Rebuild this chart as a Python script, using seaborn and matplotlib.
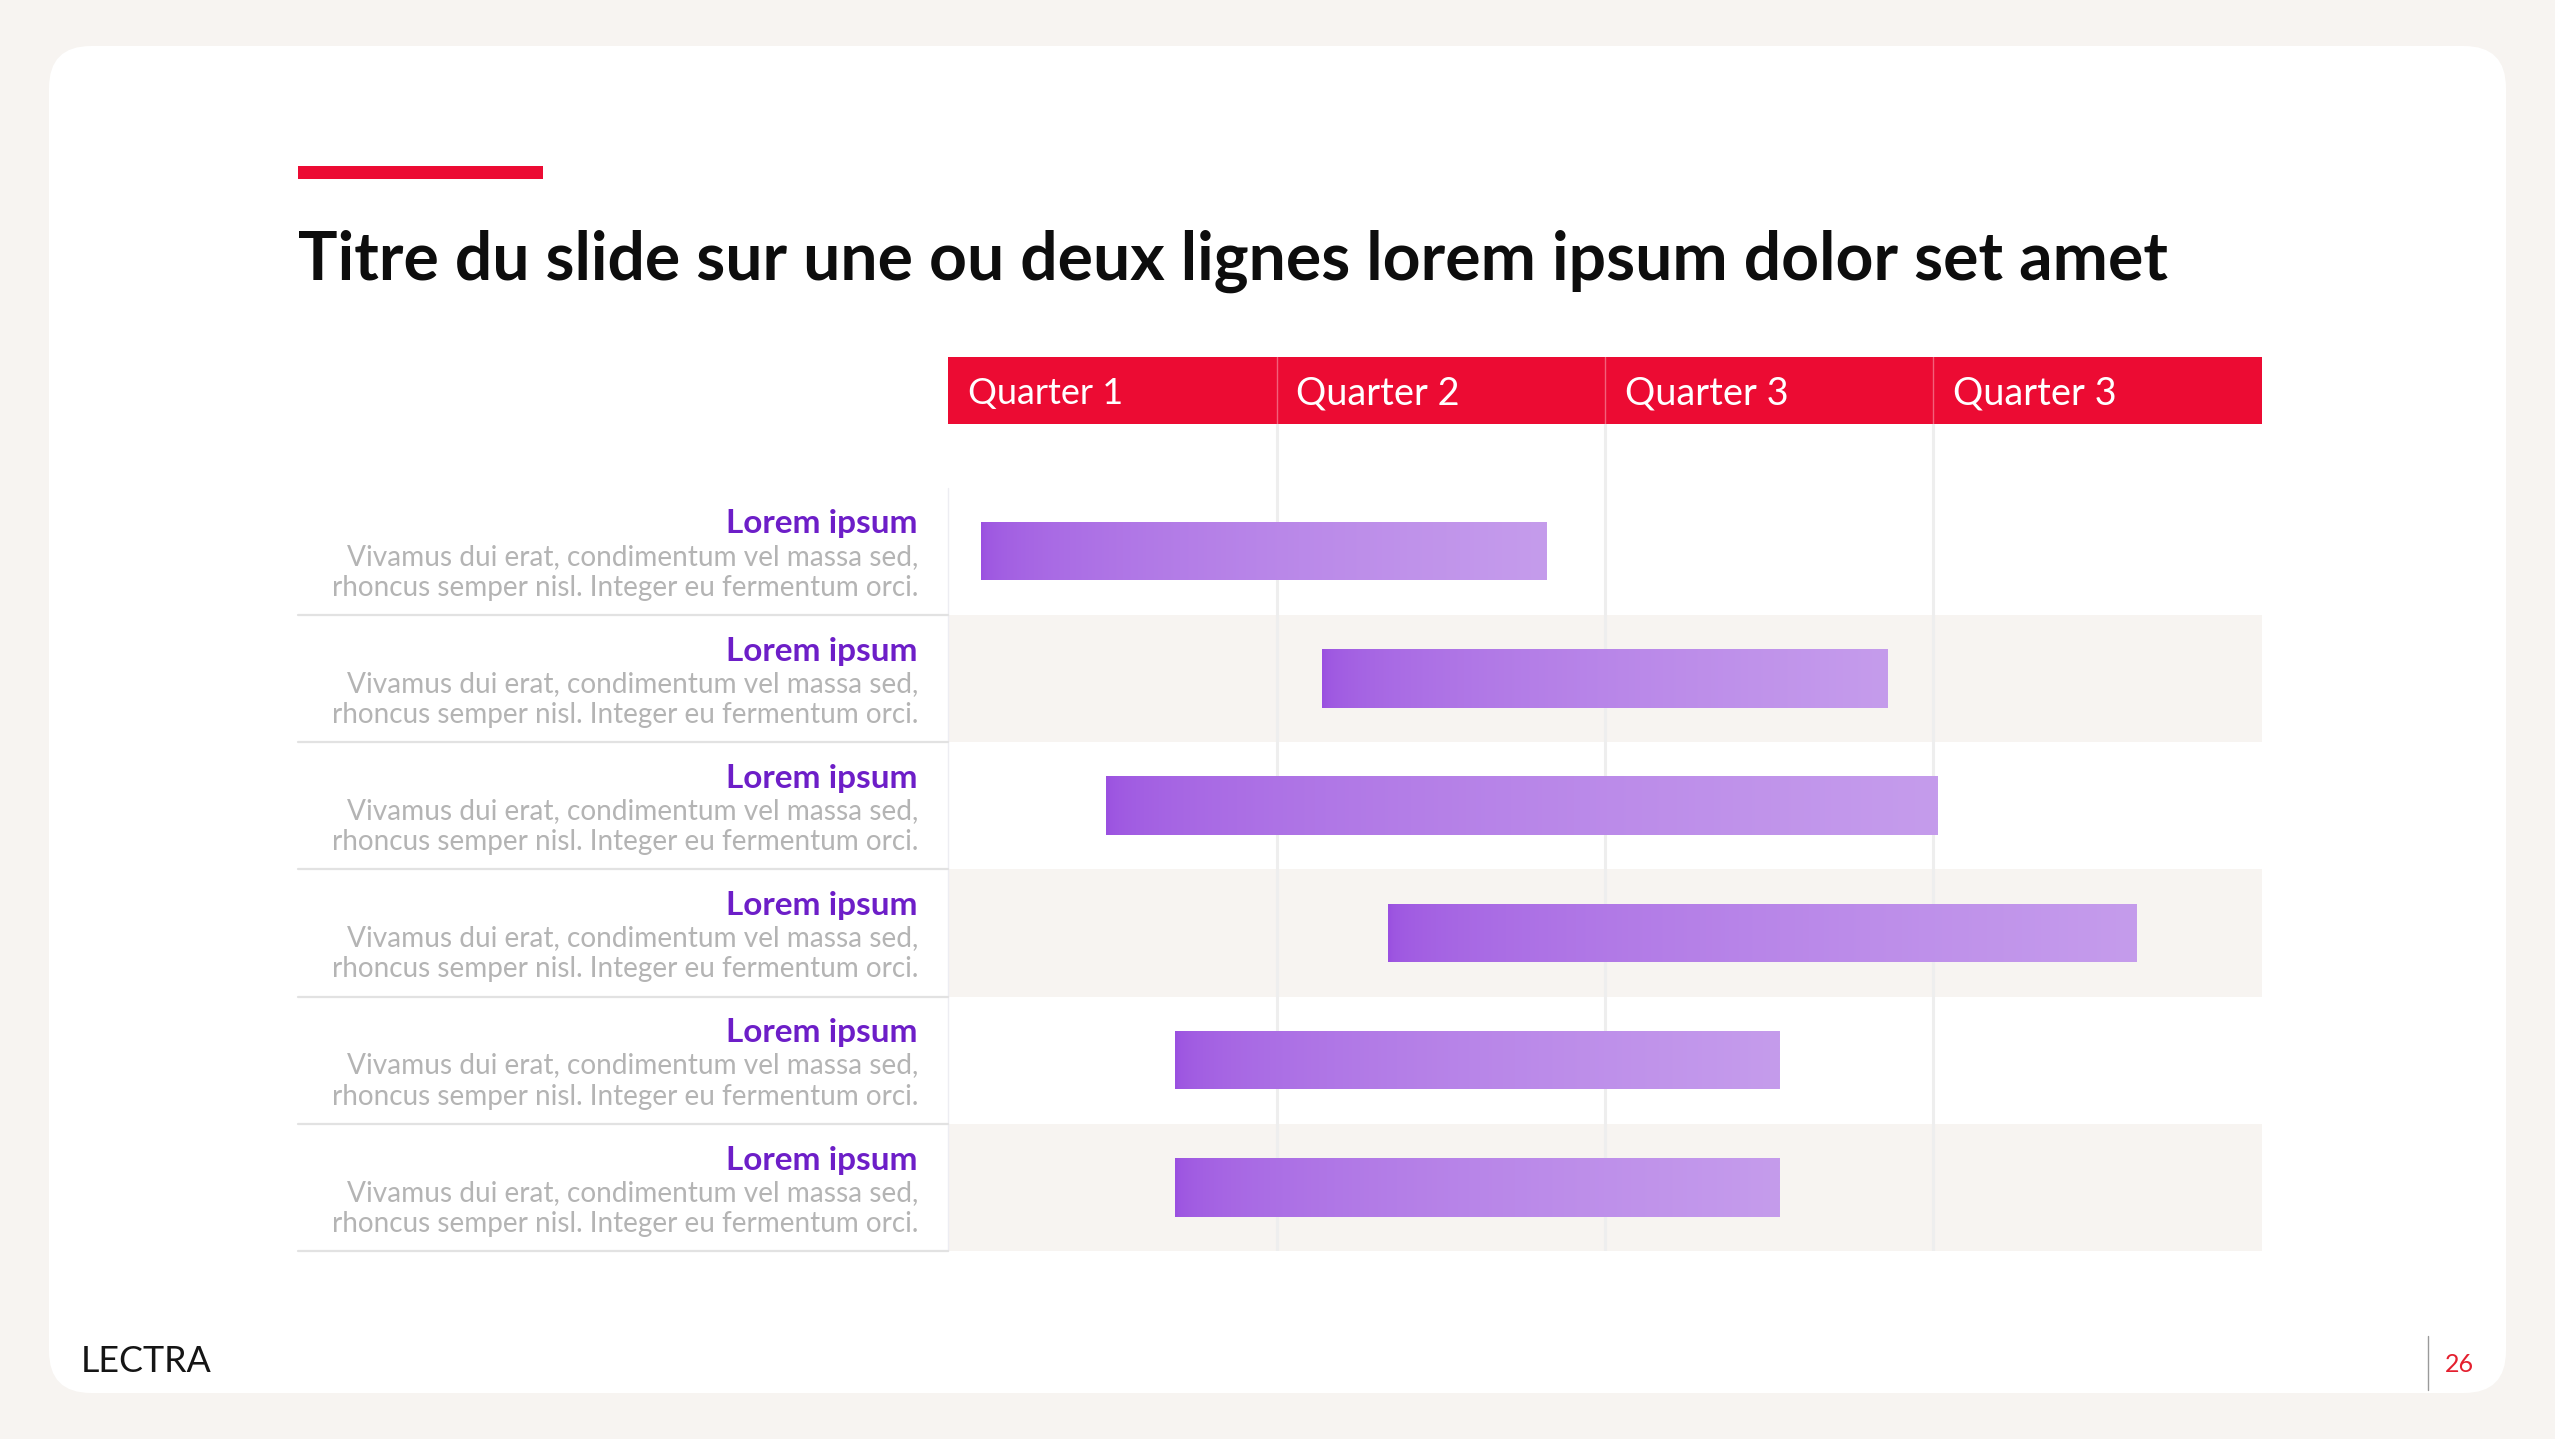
import numpy as np
import pandas as pd
import matplotlib.pyplot as plt
import matplotlib.transforms as mtransforms
from matplotlib.patches import FancyBboxPatch, Rectangle
from matplotlib.colors import to_rgb
import seaborn as sns

# data (bar extents in quarter units, 0 = start of Quarter 1)
quarters = ["Quarter 1", "Quarter 2", "Quarter 3", "Quarter 3"]
rows = ["r1", "r2", "r3", "r4", "r5", "r6"]
row_titles = ["Lorem ipsum"] * 6
row_line1 = ["Vivamus dui erat, condimentum vel massa sed,"] * 6
row_line2 = ["rhoncus semper nisl. Integer eu fermentum orci."] * 6
starts = [0.10, 1.14, 0.48, 1.34, 0.69, 0.69]
ends = [1.82, 2.86, 3.01, 3.62, 2.53, 2.53]
title = "Titre du slide sur une ou deux lignes lorem ipsum dolor set amet"
page = "26"

df = pd.DataFrame({"row": rows, "start": starts, "end": ends})
df["duration"] = df["end"] - df["start"]

BEIGE = "#F7F4F1"
RED = "#EC0B33"
PURPLE = "#6D1EC8"
GREY_TXT = "#B4B4B4"

sns.set_theme(style="white")
plt.rcParams["font.family"] = ["Lato", "DejaVu Sans"]

W, H = 2555, 1439
fig = plt.figure(figsize=(W / 100, H / 100), dpi=100)
fig.patch.set_facecolor(BEIGE)


def px_rect(x0, y0, x1, y1):
    return [x0 / W, 1 - y1 / H, (x1 - x0) / W, (y1 - y0) / H]


def fit(txt, target):
    r = fig.canvas.get_renderer()
    w = txt.get_window_extent(r).width
    txt.set_fontsize(txt.get_fontsize() * target / w)


# background layer in pixel coordinates
bg = fig.add_axes([0, 0, 1, 1])
bg.set_xlim(0, W)
bg.set_ylim(H, 0)
bg.axis("off")
bg.set_zorder(0)

rad = 42
bg.add_patch(FancyBboxPatch((49 + rad, 46 + rad), 2506 - 49 - 2 * rad, 1393 - 46 - 2 * rad,
                            boxstyle=f"round,pad={rad}", fc="white", ec="none"))
bg.add_patch(Rectangle((298, 166), 245, 13, fc=RED, ec="none"))
t = bg.text(298, 280, title, fontsize=48, fontweight="bold", color="#0D0D0D", va="baseline")
fit(t, 1870)

logo = bg.text(81, 1372, "LECTRA", fontsize=24, color="#151515", va="baseline")
fit(logo, 131)
bg.plot([2428, 2428], [1336, 1390], color="#9A9A9A", lw=1)
bg.text(2459, 1372, page, fontsize=18, color="#E4202F", ha="center", va="baseline")

# header with the quarters
hx = fig.add_axes(px_rect(948, 357, 2262, 424))
hx.set_zorder(3)
hx.set_facecolor(RED)
hx.set_xlim(0, 4)
hx.set_ylim(0, 1)
hx.set_xticks([])
hx.set_yticks([])
for s in hx.spines.values():
    s.set_visible(False)
for k, q in enumerate(quarters):
    qt = hx.text(k + 0.06, 0.45, q, color="white", fontsize=26, va="center")
    fit(qt, 155 if q[-1] == "1" else 163)
    if k > 0:
        hx.axvline(k, color="white", alpha=0.35, lw=1)

# gantt area
ax = fig.add_axes(px_rect(948, 424, 2262, 1251))
ax.set_zorder(2)
ax.patch.set_alpha(0)

sns.barplot(data=df, x="duration", y="row", left=starts, orient="y", width=0.46,
            color="#B07AE6", errorbar=None, ax=ax)
bars = list(ax.patches)

c0 = np.array(to_rgb("#9A50E0"))
c1 = np.array(to_rgb("#C59CEC"))
tt = np.linspace(0, 1, 256)[None, :, None]
grad = c0 + (c1 - c0) * np.sqrt(tt)
for p in bars:
    x0, y0, w, h = p.get_x(), p.get_y(), p.get_width(), p.get_height()
    im = ax.imshow(grad, extent=[x0, x0 + w, y0 + h, y0], aspect="auto",
                   interpolation="bilinear", zorder=3)
    im.set_clip_path(p)
    p.set_facecolor("none")
    p.set_edgecolor("none")

for i in range(len(rows)):
    if i % 2 == 1:
        ax.axhspan(i - 0.5, i + 0.5, color=BEIGE, lw=0, zorder=0)
for q in range(1, 4):
    ax.axvline(q, color="#EEEEEE", lw=2.2, zorder=1)
ax.plot([0, 0], [-0.5, 5.5], color="#EDEDF2", lw=1, zorder=1, clip_on=False)

ax.set_xlim(0, 4)
ax.set_ylim(5.5, -1.0)
ax.axis("off")

# row labels on the left
trans = mtransforms.blended_transform_factory(ax.transAxes, ax.transData)
x_lab = (918 - 948) / 1314
x_sep = (298 - 948) / 1314
for i in range(len(rows)):
    a = ax.text(x_lab, i - 0.14, row_titles[i], transform=trans, ha="right", va="baseline",
                fontsize=24, fontweight="bold", color=PURPLE, clip_on=False)
    fit(a, 192)
    b = ax.text(x_lab, i + 0.105, row_line1[i], transform=trans, ha="right", va="baseline",
                fontsize=18, color=GREY_TXT, clip_on=False)
    fit(b, 570)
    c = ax.text(x_lab, i + 0.35, row_line2[i], transform=trans, ha="right", va="baseline",
                fontsize=18, color=GREY_TXT, clip_on=False)
    fit(c, 583)
    ax.plot([x_sep, 0], [i + 0.5, i + 0.5], transform=trans, color="#E2E2E2", lw=1.6,
            clip_on=False)

fig.savefig("out.png", dpi=100, facecolor=BEIGE)
